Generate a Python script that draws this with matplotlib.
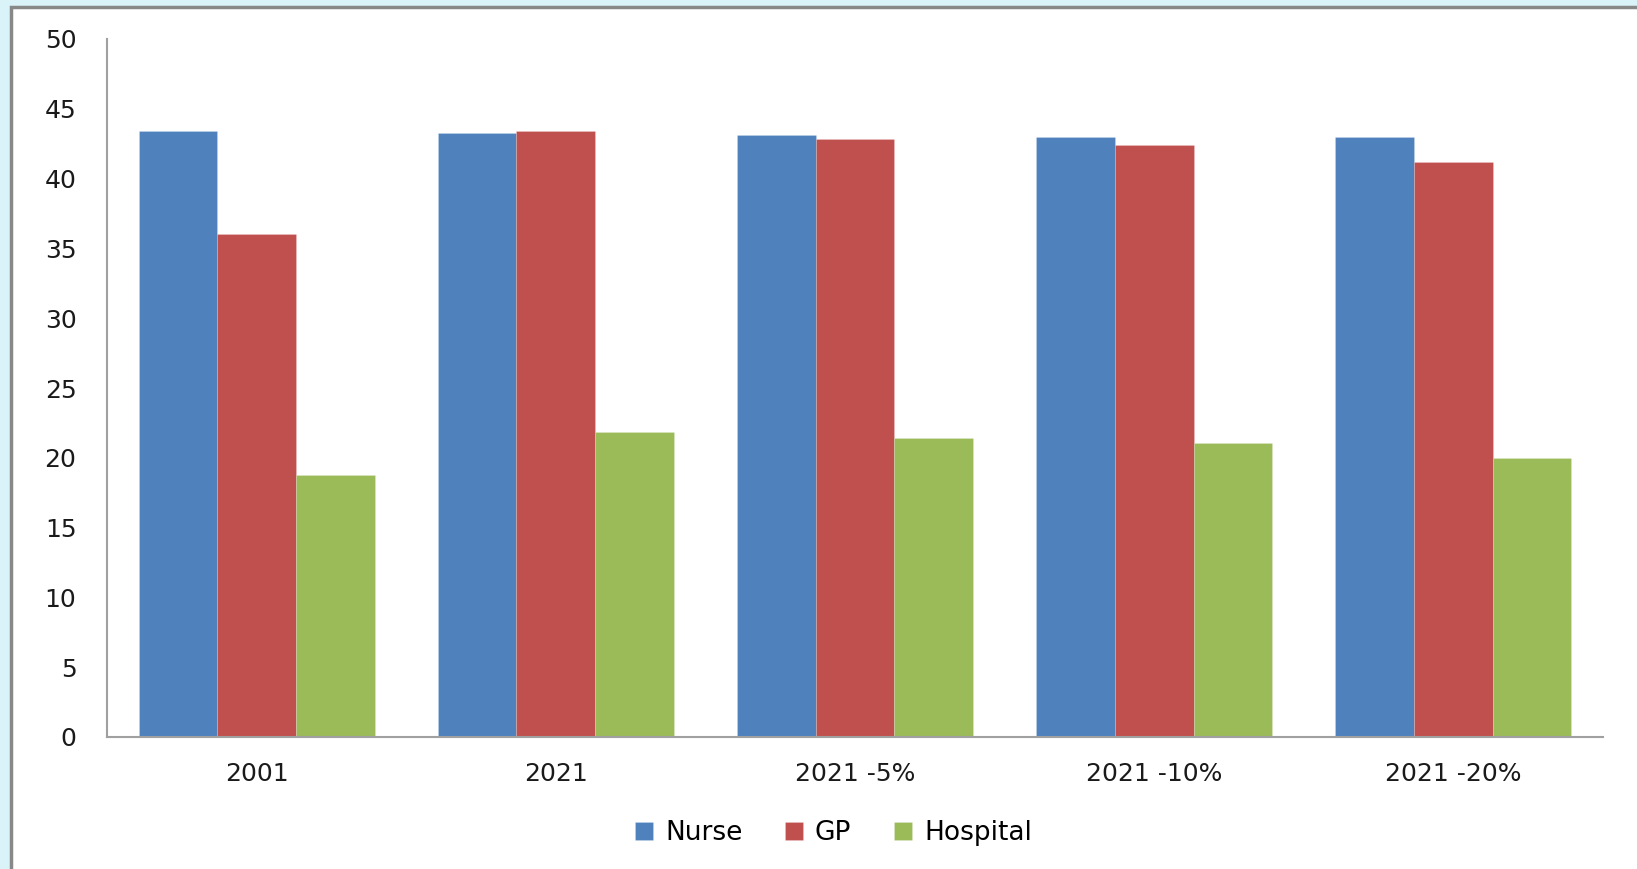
import matplotlib.pyplot as plt
import numpy as np
from matplotlib.patches import Rectangle

# scenario labels and the three series
scenarios = ['2001', '2021', '2021 -5%', '2021 -10%', '2021 -20%']
nurse = [43.4, 43.25, 43.1, 43.0, 43.0]
gp = [36.0, 43.4, 42.85, 42.4, 41.2]
hospital = [18.8, 21.85, 21.45, 21.05, 20.0]

series_names = ['Nurse', 'GP', 'Hospital']
colors = ['#4F81BD', '#C0504D', '#9BBB59']

fig = plt.figure(figsize=(16.37, 8.69), dpi=100, facecolor='#DAF3F8')

# white panel with a grey frame on the top and left
panel = Rectangle((11 / 1637, -0.01), 1.0, 1 - 7 / 869 + 0.01, transform=fig.transFigure,
                  facecolor='white', edgecolor='#888888', linewidth=2.5, zorder=-1)
fig.patches.append(panel)

ax = fig.add_axes([107 / 1637, 1 - 737 / 869, (1603 - 107) / 1637, (737 - 39) / 869])
ax.set_facecolor('none')

x = np.arange(len(scenarios))
w = 0.263
for i, (vals, name, c) in enumerate(zip([nurse, gp, hospital], series_names, colors)):
    ax.bar(x + (i - 1) * w, vals, width=w, color=c, label=name,
           edgecolor=(1, 1, 1, 0.2), linewidth=0.6)

ax.set_xlim(-0.5, len(scenarios) - 0.5)
ax.set_ylim(0, 50)
ax.set_yticks(range(0, 51, 5))
ax.set_xticks(x)
ax.set_xticklabels(scenarios)

for side in ['top', 'right']:
    ax.spines[side].set_visible(False)
for side in ['left', 'bottom']:
    ax.spines[side].set_color('#A0A0A0')
    ax.spines[side].set_linewidth(1.5)

ax.tick_params(axis='y', length=0, pad=22, labelsize=18, labelcolor='#1a1a1a')
ax.tick_params(axis='x', length=0, pad=18, labelsize=18, labelcolor='#1a1a1a')

fig.legend(loc='center', bbox_to_anchor=(0.509, 0.041), ncol=3, frameon=False,
           fontsize=19, handlelength=0.7, handleheight=0.7, handletextpad=0.45,
           columnspacing=1.6)

fig.savefig('out.png', dpi=100, facecolor=fig.get_facecolor())
